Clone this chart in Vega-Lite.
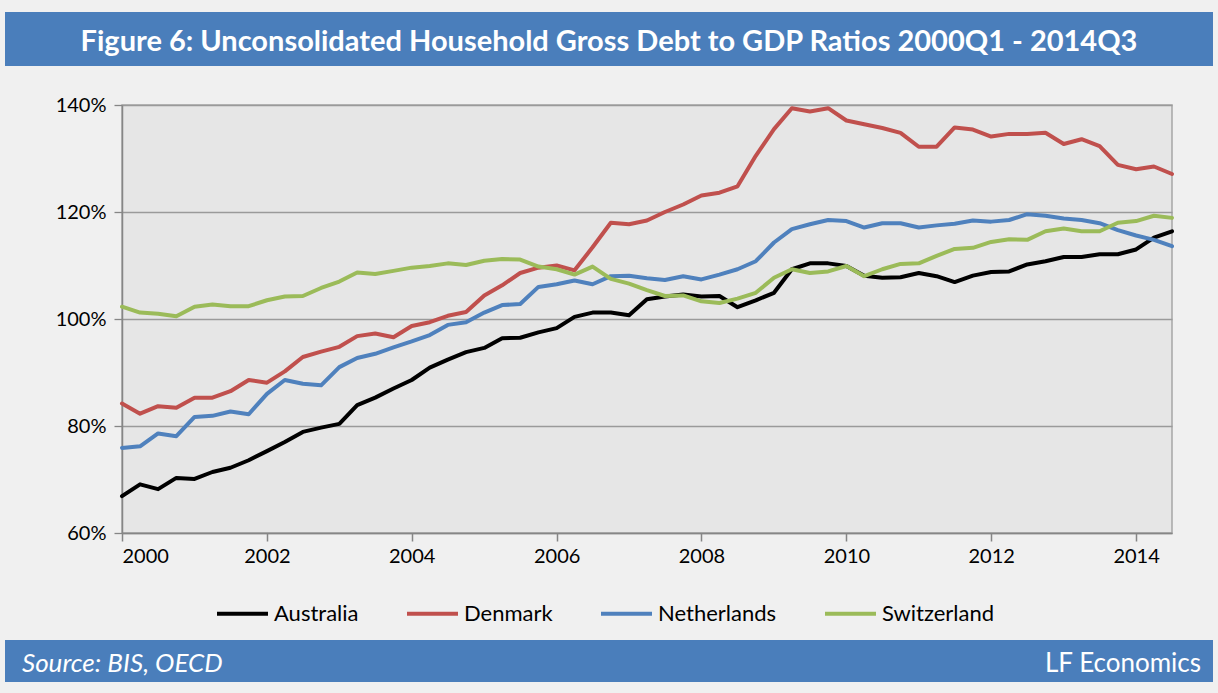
{
  "$schema": "https://vega.github.io/schema/vega-lite/v6.json",
  "background": "#f0f0f0",
  "padding": {"left": 5, "right": 5, "top": 12, "bottom": 11},
  "spacing": 0,
  "align": "none",
  "config": {"font": "Lato"},
  "vconcat": [
    {
      "width": 1208,
      "height": 54,
      "view": {"fill": "#4a7ebb", "stroke": null},
      "data": {"values": [{"title": "Figure 6: Unconsolidated  Household Gross Debt to GDP Ratios 2000Q1 - 2014Q3"}]},
      "mark": {"type": "text", "color": "#ffffff", "font": "Lato", "fontSize": 29, "fontWeight": "bold", "align": "center", "baseline": "middle", "dy": 3},
      "encoding": {
        "text": {"field": "title", "type": "nominal"},
        "x": {"datum": 0.5, "type": "quantitative", "scale": {"domain": [0, 1]},
              "axis": {"labels": false, "ticks": false, "domain": false, "grid": false, "title": null, "minExtent": 28, "maxExtent": 28}}
      }
    },
    {
      "spacing": 0,
      "align": "none",
      "hconcat": [
        {
          "width": 49,
          "height": 10,
          "view": {"fill": null, "stroke": null},
          "data": {"values": [{"blank": ""}]},
          "mark": {"type": "text", "opacity": 0},
          "encoding": {"text": {"field": "blank", "type": "nominal"}}
        },
        {
          "width": 1050,
          "height": 428,
          "view": {"fill": "#e6e6e6", "stroke": "#a6a6a6", "strokeWidth": 1.5},
          "data": {"values": [
            {"quarter":"2000-01-01","country":"Australia","ratio":66.9},{"quarter":"2000-04-01","country":"Australia","ratio":69.1},{"quarter":"2000-07-01","country":"Australia","ratio":68.2},{"quarter":"2000-10-01","country":"Australia","ratio":70.3},
            {"quarter":"2001-01-01","country":"Australia","ratio":70.1},{"quarter":"2001-04-01","country":"Australia","ratio":71.4},{"quarter":"2001-07-01","country":"Australia","ratio":72.2},{"quarter":"2001-10-01","country":"Australia","ratio":73.6},
            {"quarter":"2002-01-01","country":"Australia","ratio":75.3},{"quarter":"2002-04-01","country":"Australia","ratio":77.0},{"quarter":"2002-07-01","country":"Australia","ratio":78.9},{"quarter":"2002-10-01","country":"Australia","ratio":79.7},
            {"quarter":"2003-01-01","country":"Australia","ratio":80.4},{"quarter":"2003-04-01","country":"Australia","ratio":83.9},{"quarter":"2003-07-01","country":"Australia","ratio":85.3},{"quarter":"2003-10-01","country":"Australia","ratio":87.0},
            {"quarter":"2004-01-01","country":"Australia","ratio":88.6},{"quarter":"2004-04-01","country":"Australia","ratio":90.9},{"quarter":"2004-07-01","country":"Australia","ratio":92.4},{"quarter":"2004-10-01","country":"Australia","ratio":93.8},
            {"quarter":"2005-01-01","country":"Australia","ratio":94.6},{"quarter":"2005-04-01","country":"Australia","ratio":96.4},{"quarter":"2005-07-01","country":"Australia","ratio":96.5},{"quarter":"2005-10-01","country":"Australia","ratio":97.5},
            {"quarter":"2006-01-01","country":"Australia","ratio":98.3},{"quarter":"2006-04-01","country":"Australia","ratio":100.4},{"quarter":"2006-07-01","country":"Australia","ratio":101.2},{"quarter":"2006-10-01","country":"Australia","ratio":101.2},
            {"quarter":"2007-01-01","country":"Australia","ratio":100.7},{"quarter":"2007-04-01","country":"Australia","ratio":103.7},{"quarter":"2007-07-01","country":"Australia","ratio":104.2},{"quarter":"2007-10-01","country":"Australia","ratio":104.6},
            {"quarter":"2008-01-01","country":"Australia","ratio":104.2},{"quarter":"2008-04-01","country":"Australia","ratio":104.3},{"quarter":"2008-07-01","country":"Australia","ratio":102.2},{"quarter":"2008-10-01","country":"Australia","ratio":103.5},
            {"quarter":"2009-01-01","country":"Australia","ratio":104.9},{"quarter":"2009-04-01","country":"Australia","ratio":109.3},{"quarter":"2009-07-01","country":"Australia","ratio":110.4},{"quarter":"2009-10-01","country":"Australia","ratio":110.4},
            {"quarter":"2010-01-01","country":"Australia","ratio":109.9},{"quarter":"2010-04-01","country":"Australia","ratio":108.1},{"quarter":"2010-07-01","country":"Australia","ratio":107.7},{"quarter":"2010-10-01","country":"Australia","ratio":107.8},
            {"quarter":"2011-01-01","country":"Australia","ratio":108.6},{"quarter":"2011-04-01","country":"Australia","ratio":108.0},{"quarter":"2011-07-01","country":"Australia","ratio":106.9},{"quarter":"2011-10-01","country":"Australia","ratio":108.1},
            {"quarter":"2012-01-01","country":"Australia","ratio":108.8},{"quarter":"2012-04-01","country":"Australia","ratio":108.9},{"quarter":"2012-07-01","country":"Australia","ratio":110.2},{"quarter":"2012-10-01","country":"Australia","ratio":110.8},
            {"quarter":"2013-01-01","country":"Australia","ratio":111.6},{"quarter":"2013-04-01","country":"Australia","ratio":111.6},{"quarter":"2013-07-01","country":"Australia","ratio":112.1},{"quarter":"2013-10-01","country":"Australia","ratio":112.1},
            {"quarter":"2014-01-01","country":"Australia","ratio":113.0},{"quarter":"2014-04-01","country":"Australia","ratio":115.2},{"quarter":"2014-07-01","country":"Australia","ratio":116.4},

            {"quarter":"2000-01-01","country":"Denmark","ratio":84.2},{"quarter":"2000-04-01","country":"Denmark","ratio":82.3},{"quarter":"2000-07-01","country":"Denmark","ratio":83.7},{"quarter":"2000-10-01","country":"Denmark","ratio":83.4},
            {"quarter":"2001-01-01","country":"Denmark","ratio":85.3},{"quarter":"2001-04-01","country":"Denmark","ratio":85.3},{"quarter":"2001-07-01","country":"Denmark","ratio":86.5},{"quarter":"2001-10-01","country":"Denmark","ratio":88.6},
            {"quarter":"2002-01-01","country":"Denmark","ratio":88.1},{"quarter":"2002-04-01","country":"Denmark","ratio":90.2},{"quarter":"2002-07-01","country":"Denmark","ratio":92.9},{"quarter":"2002-10-01","country":"Denmark","ratio":93.9},
            {"quarter":"2003-01-01","country":"Denmark","ratio":94.8},{"quarter":"2003-04-01","country":"Denmark","ratio":96.8},{"quarter":"2003-07-01","country":"Denmark","ratio":97.3},{"quarter":"2003-10-01","country":"Denmark","ratio":96.6},
            {"quarter":"2004-01-01","country":"Denmark","ratio":98.7},{"quarter":"2004-04-01","country":"Denmark","ratio":99.4},{"quarter":"2004-07-01","country":"Denmark","ratio":100.6},{"quarter":"2004-10-01","country":"Denmark","ratio":101.3},
            {"quarter":"2005-01-01","country":"Denmark","ratio":104.4},{"quarter":"2005-04-01","country":"Denmark","ratio":106.3},{"quarter":"2005-07-01","country":"Denmark","ratio":108.6},{"quarter":"2005-10-01","country":"Denmark","ratio":109.6},
            {"quarter":"2006-01-01","country":"Denmark","ratio":110.0},{"quarter":"2006-04-01","country":"Denmark","ratio":109.1},{"quarter":"2006-07-01","country":"Denmark","ratio":113.4},{"quarter":"2006-10-01","country":"Denmark","ratio":118.0},
            {"quarter":"2007-01-01","country":"Denmark","ratio":117.7},{"quarter":"2007-04-01","country":"Denmark","ratio":118.4},{"quarter":"2007-07-01","country":"Denmark","ratio":120.0},{"quarter":"2007-10-01","country":"Denmark","ratio":121.4},
            {"quarter":"2008-01-01","country":"Denmark","ratio":123.1},{"quarter":"2008-04-01","country":"Denmark","ratio":123.6},{"quarter":"2008-07-01","country":"Denmark","ratio":124.8},{"quarter":"2008-10-01","country":"Denmark","ratio":130.5},
            {"quarter":"2009-01-01","country":"Denmark","ratio":135.5},{"quarter":"2009-04-01","country":"Denmark","ratio":139.4},{"quarter":"2009-07-01","country":"Denmark","ratio":138.8},{"quarter":"2009-10-01","country":"Denmark","ratio":139.4},
            {"quarter":"2010-01-01","country":"Denmark","ratio":137.1},{"quarter":"2010-04-01","country":"Denmark","ratio":136.4},{"quarter":"2010-07-01","country":"Denmark","ratio":135.7},{"quarter":"2010-10-01","country":"Denmark","ratio":134.8},
            {"quarter":"2011-01-01","country":"Denmark","ratio":132.2},{"quarter":"2011-04-01","country":"Denmark","ratio":132.2},{"quarter":"2011-07-01","country":"Denmark","ratio":135.8},{"quarter":"2011-10-01","country":"Denmark","ratio":135.4},
            {"quarter":"2012-01-01","country":"Denmark","ratio":134.1},{"quarter":"2012-04-01","country":"Denmark","ratio":134.6},{"quarter":"2012-07-01","country":"Denmark","ratio":134.6},{"quarter":"2012-10-01","country":"Denmark","ratio":134.8},
            {"quarter":"2013-01-01","country":"Denmark","ratio":132.7},{"quarter":"2013-04-01","country":"Denmark","ratio":133.6},{"quarter":"2013-07-01","country":"Denmark","ratio":132.3},{"quarter":"2013-10-01","country":"Denmark","ratio":128.8},
            {"quarter":"2014-01-01","country":"Denmark","ratio":128.0},{"quarter":"2014-04-01","country":"Denmark","ratio":128.5},{"quarter":"2014-07-01","country":"Denmark","ratio":127.1},

            {"quarter":"2000-01-01","country":"Netherlands","ratio":75.9},{"quarter":"2000-04-01","country":"Netherlands","ratio":76.2},{"quarter":"2000-07-01","country":"Netherlands","ratio":78.6},{"quarter":"2000-10-01","country":"Netherlands","ratio":78.1},
            {"quarter":"2001-01-01","country":"Netherlands","ratio":81.7},{"quarter":"2001-04-01","country":"Netherlands","ratio":81.9},{"quarter":"2001-07-01","country":"Netherlands","ratio":82.7},{"quarter":"2001-10-01","country":"Netherlands","ratio":82.2},
            {"quarter":"2002-01-01","country":"Netherlands","ratio":86.0},{"quarter":"2002-04-01","country":"Netherlands","ratio":88.6},{"quarter":"2002-07-01","country":"Netherlands","ratio":87.9},{"quarter":"2002-10-01","country":"Netherlands","ratio":87.6},
            {"quarter":"2003-01-01","country":"Netherlands","ratio":91.0},{"quarter":"2003-04-01","country":"Netherlands","ratio":92.7},{"quarter":"2003-07-01","country":"Netherlands","ratio":93.5},{"quarter":"2003-10-01","country":"Netherlands","ratio":94.7},
            {"quarter":"2004-01-01","country":"Netherlands","ratio":95.8},{"quarter":"2004-04-01","country":"Netherlands","ratio":97.0},{"quarter":"2004-07-01","country":"Netherlands","ratio":98.9},{"quarter":"2004-10-01","country":"Netherlands","ratio":99.4},
            {"quarter":"2005-01-01","country":"Netherlands","ratio":101.2},{"quarter":"2005-04-01","country":"Netherlands","ratio":102.6},{"quarter":"2005-07-01","country":"Netherlands","ratio":102.8},{"quarter":"2005-10-01","country":"Netherlands","ratio":106.0},
            {"quarter":"2006-01-01","country":"Netherlands","ratio":106.5},{"quarter":"2006-04-01","country":"Netherlands","ratio":107.2},{"quarter":"2006-07-01","country":"Netherlands","ratio":106.5},{"quarter":"2006-10-01","country":"Netherlands","ratio":108.0},
            {"quarter":"2007-01-01","country":"Netherlands","ratio":108.1},{"quarter":"2007-04-01","country":"Netherlands","ratio":107.6},{"quarter":"2007-07-01","country":"Netherlands","ratio":107.3},{"quarter":"2007-10-01","country":"Netherlands","ratio":108.0},
            {"quarter":"2008-01-01","country":"Netherlands","ratio":107.4},{"quarter":"2008-04-01","country":"Netherlands","ratio":108.3},{"quarter":"2008-07-01","country":"Netherlands","ratio":109.3},{"quarter":"2008-10-01","country":"Netherlands","ratio":110.8},
            {"quarter":"2009-01-01","country":"Netherlands","ratio":114.3},{"quarter":"2009-04-01","country":"Netherlands","ratio":116.8},{"quarter":"2009-07-01","country":"Netherlands","ratio":117.7},{"quarter":"2009-10-01","country":"Netherlands","ratio":118.5},
            {"quarter":"2010-01-01","country":"Netherlands","ratio":118.3},{"quarter":"2010-04-01","country":"Netherlands","ratio":117.1},{"quarter":"2010-07-01","country":"Netherlands","ratio":117.9},{"quarter":"2010-10-01","country":"Netherlands","ratio":117.9},
            {"quarter":"2011-01-01","country":"Netherlands","ratio":117.1},{"quarter":"2011-04-01","country":"Netherlands","ratio":117.5},{"quarter":"2011-07-01","country":"Netherlands","ratio":117.8},{"quarter":"2011-10-01","country":"Netherlands","ratio":118.4},
            {"quarter":"2012-01-01","country":"Netherlands","ratio":118.2},{"quarter":"2012-04-01","country":"Netherlands","ratio":118.5},{"quarter":"2012-07-01","country":"Netherlands","ratio":119.6},{"quarter":"2012-10-01","country":"Netherlands","ratio":119.3},
            {"quarter":"2013-01-01","country":"Netherlands","ratio":118.8},{"quarter":"2013-04-01","country":"Netherlands","ratio":118.5},{"quarter":"2013-07-01","country":"Netherlands","ratio":117.9},{"quarter":"2013-10-01","country":"Netherlands","ratio":116.6},
            {"quarter":"2014-01-01","country":"Netherlands","ratio":115.6},{"quarter":"2014-04-01","country":"Netherlands","ratio":114.8},{"quarter":"2014-07-01","country":"Netherlands","ratio":113.6},

            {"quarter":"2000-01-01","country":"Switzerland","ratio":102.3},{"quarter":"2000-04-01","country":"Switzerland","ratio":101.2},{"quarter":"2000-07-01","country":"Switzerland","ratio":101.0},{"quarter":"2000-10-01","country":"Switzerland","ratio":100.5},
            {"quarter":"2001-01-01","country":"Switzerland","ratio":102.3},{"quarter":"2001-04-01","country":"Switzerland","ratio":102.7},{"quarter":"2001-07-01","country":"Switzerland","ratio":102.4},{"quarter":"2001-10-01","country":"Switzerland","ratio":102.4},
            {"quarter":"2002-01-01","country":"Switzerland","ratio":103.5},{"quarter":"2002-04-01","country":"Switzerland","ratio":104.2},{"quarter":"2002-07-01","country":"Switzerland","ratio":104.3},{"quarter":"2002-10-01","country":"Switzerland","ratio":105.8},
            {"quarter":"2003-01-01","country":"Switzerland","ratio":107.0},{"quarter":"2003-04-01","country":"Switzerland","ratio":108.7},{"quarter":"2003-07-01","country":"Switzerland","ratio":108.4},{"quarter":"2003-10-01","country":"Switzerland","ratio":109.0},
            {"quarter":"2004-01-01","country":"Switzerland","ratio":109.6},{"quarter":"2004-04-01","country":"Switzerland","ratio":109.9},{"quarter":"2004-07-01","country":"Switzerland","ratio":110.4},{"quarter":"2004-10-01","country":"Switzerland","ratio":110.1},
            {"quarter":"2005-01-01","country":"Switzerland","ratio":110.9},{"quarter":"2005-04-01","country":"Switzerland","ratio":111.2},{"quarter":"2005-07-01","country":"Switzerland","ratio":111.1},{"quarter":"2005-10-01","country":"Switzerland","ratio":109.8},
            {"quarter":"2006-01-01","country":"Switzerland","ratio":109.3},{"quarter":"2006-04-01","country":"Switzerland","ratio":108.3},{"quarter":"2006-07-01","country":"Switzerland","ratio":109.8},{"quarter":"2006-10-01","country":"Switzerland","ratio":107.5},
            {"quarter":"2007-01-01","country":"Switzerland","ratio":106.6},{"quarter":"2007-04-01","country":"Switzerland","ratio":105.4},{"quarter":"2007-07-01","country":"Switzerland","ratio":104.3},{"quarter":"2007-10-01","country":"Switzerland","ratio":104.4},
            {"quarter":"2008-01-01","country":"Switzerland","ratio":103.3},{"quarter":"2008-04-01","country":"Switzerland","ratio":103.0},{"quarter":"2008-07-01","country":"Switzerland","ratio":103.8},{"quarter":"2008-10-01","country":"Switzerland","ratio":104.9},
            {"quarter":"2009-01-01","country":"Switzerland","ratio":107.7},{"quarter":"2009-04-01","country":"Switzerland","ratio":109.3},{"quarter":"2009-07-01","country":"Switzerland","ratio":108.6},{"quarter":"2009-10-01","country":"Switzerland","ratio":108.9},
            {"quarter":"2010-01-01","country":"Switzerland","ratio":109.9},{"quarter":"2010-04-01","country":"Switzerland","ratio":108.0},{"quarter":"2010-07-01","country":"Switzerland","ratio":109.3},{"quarter":"2010-10-01","country":"Switzerland","ratio":110.3},
            {"quarter":"2011-01-01","country":"Switzerland","ratio":110.4},{"quarter":"2011-04-01","country":"Switzerland","ratio":111.8},{"quarter":"2011-07-01","country":"Switzerland","ratio":113.1},{"quarter":"2011-10-01","country":"Switzerland","ratio":113.3},
            {"quarter":"2012-01-01","country":"Switzerland","ratio":114.4},{"quarter":"2012-04-01","country":"Switzerland","ratio":114.9},{"quarter":"2012-07-01","country":"Switzerland","ratio":114.8},{"quarter":"2012-10-01","country":"Switzerland","ratio":116.4},
            {"quarter":"2013-01-01","country":"Switzerland","ratio":116.9},{"quarter":"2013-04-01","country":"Switzerland","ratio":116.4},{"quarter":"2013-07-01","country":"Switzerland","ratio":116.4},{"quarter":"2013-10-01","country":"Switzerland","ratio":118.0},
            {"quarter":"2014-01-01","country":"Switzerland","ratio":118.3},{"quarter":"2014-04-01","country":"Switzerland","ratio":119.3},{"quarter":"2014-07-01","country":"Switzerland","ratio":118.9}
          ]},
          "mark": {"type": "line", "strokeWidth": 4, "strokeJoin": "round", "strokeCap": "round"},
          "encoding": {
            "x": {
              "field": "quarter", "type": "temporal",
              "scale": {"type": "utc", "nice": false},
              "axis": {
                "title": null, "grid": false, "format": "%Y", "formatType": "utc",
                "tickCount": {"interval": "year", "step": 2},
                "domainColor": "#868686", "domainWidth": 1.5,
                "tickColor": "#868686", "tickWidth": 1.5, "tickSize": 8,
                "labelFont": "Lato", "labelFontSize": 20, "labelColor": "#000000", "labelPadding": 5
              }
            },
            "y": {
              "field": "ratio", "type": "quantitative",
              "scale": {"domain": [60, 140], "nice": false, "zero": false},
              "axis": {
                "title": null, "values": [60, 80, 100, 120, 140],
                "labelExpr": "datum.value + '%'",
                "grid": true, "gridColor": "#9a9a9a", "gridWidth": 1.3,
                "domainColor": "#868686", "domainWidth": 1.5,
                "tickColor": "#868686", "tickWidth": 1.3, "tickSize": 8,
                "labelFont": "Lato", "labelFontSize": 20, "labelColor": "#000000", "labelPadding": 8,
                "minExtent": 60, "maxExtent": 60
              }
            },
            "color": {
              "field": "country", "type": "nominal",
              "scale": {"domain": ["Australia", "Denmark", "Netherlands", "Switzerland"], "range": ["#000000", "#c0504d", "#4f81bd", "#9bbb59"]},
              "legend": {
                "title": null, "orient": "none", "direction": "horizontal",
                "legendX": 193, "legendY": 557, "padding": 17,
                "symbolType": "stroke", "symbolSize": 2600, "symbolStrokeWidth": 4,
                "labelFont": "Lato", "labelFontSize": 22, "labelColor": "#000000", "labelOffset": 4,
                "columnPadding": 40
              }
            }
          }
        }
      ]
    },
    {
      "width": 1208,
      "height": 42,
      "view": {"fill": "#4a7ebb", "stroke": null},
      "data": {"values": [{"source": "Source: BIS, OECD", "credit": "LF Economics"}]},
      "layer": [
        {
          "mark": {"type": "text", "color": "#ffffff", "font": "Lato", "fontSize": 26, "fontStyle": "italic", "align": "left", "baseline": "middle", "dx": 17, "dy": 3},
          "encoding": {
            "text": {"field": "source", "type": "nominal"},
            "x": {"datum": 0, "type": "quantitative", "scale": {"domain": [0, 1]},
                  "axis": {"orient": "top", "labels": false, "ticks": false, "domain": false, "grid": false, "title": null, "minExtent": 73, "maxExtent": 73}}
          }
        },
        {
          "mark": {"type": "text", "color": "#ffffff", "font": "Lato", "fontSize": 26, "align": "right", "baseline": "middle", "dx": -12, "dy": 3},
          "encoding": {
            "text": {"field": "credit", "type": "nominal"},
            "x": {"datum": 1, "type": "quantitative", "scale": {"domain": [0, 1]}}
          }
        }
      ]
    }
  ]
}
